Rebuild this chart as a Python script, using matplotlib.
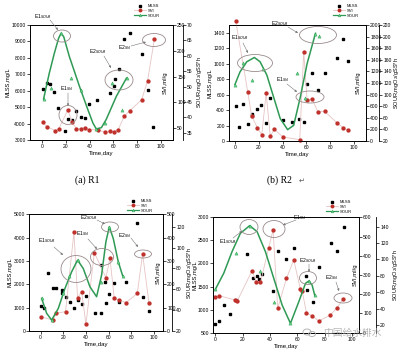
import matplotlib
matplotlib.use("Agg")
import matplotlib.pyplot as plt
from matplotlib.lines import Line2D
from matplotlib.patches import Ellipse

plt.rcParams['font.family'] = ['Liberation Sans', 'DejaVu Sans']

W, H = 400, 353

# ---- (a) R1 ----
a_mlss_x = [0.5, 4.2, 6.8, 10.4, 13.8, 19, 21.7, 25.6, 28.7, 32.4, 35.8, 39.4, 46.5, 57, 60.5, 61, 64.6, 68.8, 73.8, 83.7, 88.7, 93.5]
a_mlss_y = [6080, 6490, 6410, 5940, 4930, 3530, 4280, 4220, 4770, 4420, 4320, 5190, 5450, 5850, 6290, 6710, 7300, 9130, 9490, 8210, 6050, 3820]
a_svi_x = [0.6, 4.2, 11.3, 14, 21.7, 25.4, 29, 32.4, 36, 39.4, 47, 53, 57, 60.5, 64, 69, 73.8, 83.7, 88.7, 94.4]
a_svi_y = [61, 53, 45, 48, 85, 62, 48, 49, 51, 47, 47, 42, 44, 43, 47, 73, 84, 105, 142, 223]
a_sour_x = [1.4, 8, 16, 24.5, 32.4, 45.6, 52.7, 59, 66.8, 71]
a_sour_y = [46, 49.5, 67.3, 52.8, 48.8, 36.3, 38.2, 51.2, 42.3, 52.8]
a_fit_x = [1.4, 6.2, 10.4, 14, 16, 18.3, 23, 27.3, 31.5, 38.6, 42.8, 45.6, 49.9, 54, 62.5, 71]
a_fit_y = [46, 54.4, 60.8, 65.7, 67.3, 66.2, 59.8, 54.9, 50.1, 42.5, 38.2, 36.3, 36.7, 39.4, 46.9, 52.8]

# ---- (b) R2 ----
b_mlss_x = [0.6, 3.7, 7, 11.3, 14, 14.2, 18.9, 22, 26, 29.6, 40.3, 47.9, 53.5, 57.7, 60.6, 64.8, 69.6, 75.2, 85.4, 91, 95.2]
b_mlss_y = [449, 181, 475, 225, 354, 320, 419, 471, 238, 557, 276, 246, 289, 246, 743, 873, 657, 873, 1076, 1318, 1032]
b_svi_x = [0.6, 10.7, 14, 18.9, 22.5, 26.2, 29.6, 33, 40.3, 54.4, 57.7, 60.6, 64.8, 69.6, 75.2, 85.4, 91, 95.2]
b_svi_y = [2075, 850, 430, 225, 105, 830, 81, 202, 69, 23, 1539, 700, 725, 500, 513, 317, 225, 184]
b_sour_x = [0, 7, 14.6, 23.4, 52, 58.6, 67, 70.4]
b_sour_y = [117, 154, 126, 145, 138, 94, 204, 201]
b_fit_x = [0, 4.2, 9.9, 16.3, 21.1, 26.8, 32.4, 38, 44.2, 49.3, 54.9, 60.6, 67.6]
b_fit_y = [117.4, 139, 156.6, 164, 156.6, 133.5, 96, 58.6, 39.6, 47, 96, 153.7, 205.6]

# ---- (c) ----
c_mlss_x = [0.3, 2.9, 6.8, 10.6, 14, 19, 19.3, 22, 25.9, 29.4, 32.6, 36.2, 40, 47.9, 53.2, 53.5, 56.8, 57.6, 60.6, 65, 69.4, 75.3, 85.3, 90.6, 95.6]
c_mlss_y = [1070, 970, 2500, 1830, 1860, 1760, 1610, 1470, 1260, 1000, 1330, 1140, 1500, 790, 760, 2830, 2090, 1190, 1570, 2070, 1230, 2110, 4640, 1470, 860]
c_svi_x = [0.3, 10.6, 14, 22, 29.4, 32.6, 36.2, 40, 47.4, 57.6, 61.2, 65, 69.4, 75.3, 85.3, 90, 95.6]
c_svi_y = [61, 47, 76, 83, 423, 143, 169, 29, 336, 229, 311, 140, 133, 121, 161, 330, 121]
c_sour_x = [0.9, 9.7, 20, 25.3, 32.6, 53.2, 60.6, 68.5, 72.4]
c_sour_y = [51.3, 30.5, 56, 72.7, 88, 66.6, 120, 86.5, 73]
c_fit_x = [0.9, 5.3, 9.7, 15.6, 21.5, 27.4, 32.6, 37.6, 43.5, 49.4, 53.8, 57.6, 60.6, 64.1, 68.5, 72.4]
c_fit_y = [51.3, 37, 30.5, 41.7, 60.9, 76.9, 88, 80, 62.5, 52.9, 73.7, 105.6, 120, 108.8, 86.5, 73]

# ---- (d) ----
d_mlss_x = [0, 2.9, 6.1, 10.5, 15.4, 23.2, 27.6, 30.4, 31.7, 34.1, 42.2, 45.6, 52, 57.3, 66.6, 67, 71.5, 75.6, 84.6, 89, 93.9]
d_mlss_y = [680, 760, 1100, 900, 1210, 2200, 1680, 1730, 1660, 1770, 1410, 2280, 2090, 2340, 1730, 1430, 1160, 1930, 2450, 2260, 2780]
d_svi_x = [0, 2.9, 14.6, 16, 26.8, 30, 33, 39, 42.2, 45.6, 52, 57.3, 62.2, 63.4, 66.6, 70.7, 75.6, 84.1, 89, 93.4]
d_svi_y = [187, 192, 170, 165, 322, 265, 262, 442, 534, 127, 283, 378, 225, 218, 104, 87, 61, 92, 130, 175]
d_sour_x = [0, 15.4, 25.1, 32.4, 43.2, 54.9, 68.3, 72.7]
d_sour_y = [63.5, 108, 141, 86, 48, 22, 74, 56]
d_fit_x = [0, 6.1, 12.2, 18.3, 25.1, 30.5, 36.6, 42.7, 48.8, 54.9, 61, 65.9, 68.3, 70.7, 72.7]
d_fit_y = [63.5, 83, 109.5, 131.9, 141.2, 133.9, 109.5, 76.9, 44.4, 22, 48.4, 70.8, 73.7, 68.8, 55.8]

# axis setups: (limits, ticks)
xticks = [0, 20, 40, 60, 80, 100]
a_axes = dict(xlim=(-10, 110), mlss=(3000, 10000, range(3000, 10001, 1000)),
              svi=(27, 250, range(50, 251, 50)), sour=(32.7, 70, range(35, 71, 5)))
b_axes = dict(xlim=(-5, 110), mlss=(0, 1500, range(0, 1401, 200)),
              svi=(0, 2000, range(0, 2001, 200)), sour=(20, 220, range(20, 221, 20)))
c_axes = dict(xlim=(-10, 108), mlss=(0, 5000, range(0, 5001, 1000)),
              svi=(0, 500, range(0, 501, 100)), sour=(20, 132, range(20, 121, 20)))
d_axes = dict(xlim=(-1.5, 105), mlss=(500, 3000, range(500, 3001, 500)),
              svi=(0, 600, range(0, 601, 100)), sour=(10.6, 151.4, range(20, 141, 20)))

C_SVI = '#c0302a'
C_SVI_LINE = '#e6c4c4'
C_SOUR = '#2f9a55'
C_SOUR_PT = '#5fd07f'

fig = plt.figure(figsize=(W / 100, H / 100), dpi=100)


def rect(l, t, r, b):
    return [l / W, 1 - b / H, (r - l) / W, (b - t) / H]


def style(a):
    a.tick_params(labelsize=3.6, length=2, width=0.5, pad=1, direction='out')
    for s in a.spines.values():
        s.set_linewidth(0.6)


def panel(box, cfg, mlss, svi, sour, fit, svi_lab, sour_off, sour_pad, mlss_pad):
    ax = fig.add_axes(rect(*box))
    ax2 = ax.twinx()
    ax3 = ax.twinx()
    ax3.spines['right'].set_position(('outward', sour_off * 0.72))
    for k in ('left', 'top', 'bottom'):
        ax3.spines[k].set_visible(False)

    ax.plot(mlss[0], mlss[1], ls='none', marker='s', ms=2.1, color='black')
    ax2.plot(svi[0], svi[1], color=C_SVI_LINE, lw=0.6, marker='o', ms=2.1,
             mfc=C_SVI, mec=C_SVI, clip_on=False)
    ax3.plot(fit[0], fit[1], color=C_SOUR, lw=1.1)
    ax3.plot(sour[0], sour[1], ls='none', marker='^', ms=2.3, mfc=C_SOUR_PT, mec=C_SOUR, mew=0.3)

    ax.set_xlim(*cfg['xlim'])
    ax.set_xticks(xticks)
    ax.set_ylim(cfg['mlss'][0], cfg['mlss'][1])
    ax.set_yticks(list(cfg['mlss'][2]))
    ax2.set_ylim(cfg['svi'][0], cfg['svi'][1])
    ax2.set_yticks(list(cfg['svi'][2]))
    ax3.set_ylim(cfg['sour'][0], cfg['sour'][1])
    ax3.set_yticks(list(cfg['sour'][2]))

    for a in (ax, ax2, ax3):
        style(a)
    ax.set_xlabel('Time,day', fontsize=4.3, labelpad=1.5)
    ax.set_ylabel('MLSS,mg/L', fontsize=4.1, labelpad=mlss_pad)
    ax2.set_ylabel('SVI,ml/g', fontsize=4.3, rotation=90)
    ax2.yaxis.set_label_coords(svi_lab, 0.5)
    ax3.set_ylabel('SOUR,mgO$_2$/gSS*h', fontsize=4.1, rotation=90, labelpad=sour_pad)
    return ax


panel((30, 25, 173, 140), a_axes, (a_mlss_x, a_mlss_y), (a_svi_x, a_svi_y),
      (a_sour_x, a_sour_y), (a_fit_x, a_fit_y), 0.93, 10, 1.5, 1)
panel((229, 25, 366, 141), b_axes, (b_mlss_x, b_mlss_y), (b_svi_x, b_svi_y),
      (b_sour_x, b_sour_y), (b_fit_x, b_fit_y), 0.927, 13, 0.5, 1)
panel((29.3, 214.3, 163, 331), c_axes, (c_mlss_x, c_mlss_y), (c_svi_x, c_svi_y),
      (c_sour_x, c_sour_y), (c_fit_x, c_fit_y), 0.944, 9, 0.2, 1)
panel((213.3, 217.3, 359, 332.7), d_axes, (d_mlss_x, d_mlss_y), (d_svi_x, d_svi_y),
      (d_sour_x, d_sour_y), (d_fit_x, d_fit_y), 0.955, 17, 1.5, 0.2)

# legends
handles = [Line2D([], [], ls='none', marker='s', ms=1.8, color='black'),
           Line2D([], [], color=C_SVI_LINE, lw=0.6, marker='o', ms=1.8, mfc=C_SVI, mec=C_SVI),
           Line2D([], [], color=C_SOUR, lw=0.9, marker='^', ms=2.0, mfc=C_SOUR_PT, mec=C_SOUR, mew=0.3)]
names = ['MLSS', 'SVI', 'SOUR']
for lx, ly in [(134, 4), (333, 4), (127, 199), (326, 200)]:
    fig.legend(handles, names, loc='upper left', bbox_to_anchor=(lx / W, 1 - ly / H),
               frameon=False, fontsize=3, handlelength=2.8, handletextpad=0.5,
               labelspacing=0.2, borderpad=0, borderaxespad=0)

# overlay for annotations (pixel coords)
ov = fig.add_axes([0, 0, 1, 1], zorder=10)
ov.set_xlim(0, W)
ov.set_ylim(H, 0)
ov.axis('off')
ov.patch.set_alpha(0)

notes = [
    # label, text pos, arrow start, arrow end, ellipse centre, ellipse size
    ('E1$_{SOUR}$', (43, 17), (50, 20), (58, 30), (62, 36), (17, 12)),
    ('E1$_{SVI}$', (67, 89), (68, 93), (68, 106), (68, 115), (18, 19)),
    ('E2$_{SOUR}$', (98, 52), (104, 56), (111, 68), (119, 80), (28, 20)),
    ('E2$_{SVI}$', (125, 48), (131, 46), (146, 42), (154, 40), (23, 13)),
    ('E1$_{SOUR}$', (240, 38), (243, 43), (248, 53), (255, 63), (35, 17)),
    ('E2$_{SOUR}$', (280, 24), (288, 27), (298, 33), (318, 35), (37, 17)),
    ('E1$_{SVI}$', (283, 80), (287, 84), (297, 92), (310, 97), (28, 12)),
    ('E1$_{SOUR}$', (47, 241), (54, 247), (63, 255), (76, 269), (30, 27)),
    ('E1$_{SVI}$', (83, 234), (88, 239), (97, 249), (102, 257), (23, 17)),
    ('E2$_{SOUR}$', (89, 218), (97, 220), (105, 224), (110, 227), (17, 10)),
    ('E2$_{SVI}$', (125, 236), (131, 238), (138, 247), (143, 254), (17, 8)),
    ('E1$_{SOUR}$', (228, 242), (233, 238), (242, 231), (249, 227), (18, 15)),
    ('E1$_{SVI}$', (300, 218), (296, 220), (283, 225), (274, 229), (22, 17)),
    ('E2$_{SOUR}$', (308, 261), (309, 264), (309, 272), (308, 278), (17, 13)),
    ('E2$_{SVI}$', (332, 278), (336, 282), (339, 291), (343, 298), (18, 10)),
]
for lab, tp, a0, a1, ec, es in notes:
    ov.text(tp[0], tp[1], lab, fontsize=3.6, ha='center', va='center')
    ov.annotate('', xy=a1, xytext=a0,
                arrowprops=dict(arrowstyle='-|>', color='#777777', lw=0.4,
                                mutation_scale=3, shrinkA=0, shrinkB=0))
    ov.add_patch(Ellipse(ec, es[0], es[1], fill=False, ec='#9a8a8a', lw=0.6))

ov.text(87, 180, '(a) R1', fontsize=7, family='Liberation Serif', ha='center', va='center')
ov.text(279, 180, '(b) R2', fontsize=7, family='Liberation Serif', ha='center', va='center')
ov.text(302, 181, '\u21b5', fontsize=5, family='DejaVu Sans', color='#555555', ha='center', va='center')
ov.text(352, 333, '中国给水排水', fontsize=7, family=['Noto Sans CJK SC', 'DejaVu Sans'],
        color='#a0a0a0', alpha=0.75, ha='center', va='center')
ov.add_patch(Ellipse((307, 332), 8, 6, fill=False, ec='#aaaaaa', lw=0.6))
ov.add_patch(Ellipse((312, 334), 7, 5, fill=False, ec='#aaaaaa', lw=0.6))

fig.savefig('out.png', dpi=100)
